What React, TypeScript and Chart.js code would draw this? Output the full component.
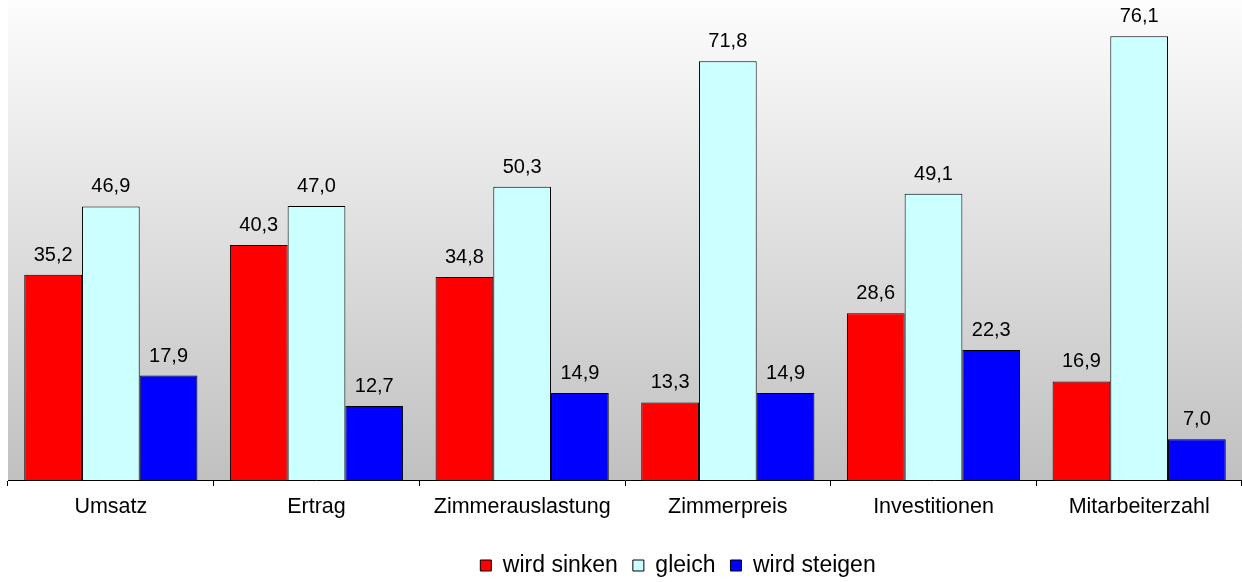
import React, { useEffect, useRef } from "react";
import { Chart, registerables } from "chart.js";

Chart.register(...registerables);

const categories = ["Umsatz", "Ertrag", "Zimmerauslastung", "Zimmerpreis", "Investitionen", "Mitarbeiterzahl"];
const seriesNames = ["wird sinken", "gleich", "wird steigen"];
const wirdSinken = [35.2, 40.3, 34.8, 13.3, 28.6, 16.9];
const gleich = [46.9, 47.0, 50.3, 71.8, 49.1, 76.1];
const wirdSteigen = [17.9, 12.7, 14.9, 14.9, 22.3, 7.0];
const seriesColors = ["#FF0000", "#CCFFFF", "#0000FF"];

const FONT = "'Liberation Sans', Arial, sans-serif";
const W = 1242;
const H = 582;
const PLOT_BOTTOM = 480;
const LEGEND_CENTER_X = 678;
const LEGEND_CENTER_Y = 565.5;
const LEGEND_FONT = 23;

const fmt = (v: number) => v.toFixed(1).replace(".", ",");

const bgPlugin = {
  id: "plotBg",
  beforeDraw(chart: any) {
    const { ctx, chartArea } = chart;
    const g = ctx.createLinearGradient(0, chartArea.top, 0, chartArea.bottom);
    g.addColorStop(0, "#FDFDFD");
    g.addColorStop(1, "#C0C0C0");
    ctx.save();
    ctx.fillStyle = g;
    ctx.fillRect(chartArea.left, chartArea.top, chartArea.right - chartArea.left, chartArea.bottom - chartArea.top);
    ctx.restore();
  },
};

const labelPlugin = {
  id: "valueLabels",
  afterDatasetsDraw(chart: any) {
    const { ctx } = chart;
    ctx.save();
    ctx.font = `20px ${FONT}`;
    ctx.fillStyle = "#000";
    ctx.textAlign = "center";
    ctx.textBaseline = "alphabetic";
    chart.data.datasets.forEach((ds: any, i: number) => {
      const meta = chart.getDatasetMeta(i);
      meta.data.forEach((bar: any, j: number) => {
        ctx.fillText(fmt(ds.data[j]), bar.x, bar.y - 14);
      });
    });
    ctx.restore();
  },
};

const legendShift = {
  id: "legendShift",
  afterLayout(chart: any) {
    const lg = chart.legend;
    if (!lg) return;
    const pad = lg.options.labels.padding;
    const dy = LEGEND_CENTER_Y - (lg.top + pad + LEGEND_FONT / 2);
    const dx = LEGEND_CENTER_X - (lg.left + lg.right) / 2;
    lg.top += dy;
    lg.bottom += dy;
    lg.left += dx;
    lg.right += dx;
  },
};

export default function App() {
  const ref = useRef<HTMLCanvasElement | null>(null);

  useEffect(() => {
    if (!ref.current) return;
    const data = [wirdSinken, gleich, wirdSteigen];
    const chart = new Chart(ref.current, {
      type: "bar",
      data: {
        labels: categories,
        datasets: seriesNames.map((name, i) => ({
          label: name,
          data: data[i],
          backgroundColor: seriesColors[i],
          borderColor: "#000",
          borderWidth: 1,
          categoryPercentage: 0.842,
          barPercentage: 1,
        })),
      },
      options: {
        responsive: false,
        animation: false,
        events: [],
        devicePixelRatio: 1,
        layout: { padding: { left: 8, right: 0, top: 0, bottom: 0 } },
        plugins: {
          legend: {
            position: "bottom",
            labels: {
              boxWidth: 11,
              boxHeight: 11,
              padding: 15,
              color: "#000",
              font: { family: FONT, size: LEGEND_FONT },
            },
          },
          tooltip: { enabled: false },
          title: { display: false },
        },
        scales: {
          x: {
            grid: {
              display: true,
              drawOnChartArea: false,
              drawTicks: true,
              tickLength: 6,
              color: "#000",
              offset: true,
            },
            border: { display: true, color: "#000", width: 1 },
            ticks: {
              color: "#000",
              padding: 8,
              font: { family: FONT, size: 21.5 },
              maxRotation: 0,
              autoSkip: false,
            },
            afterFit: (scale: any) => {
              const lgH = scale.chart.legend ? scale.chart.legend.height : 0;
              scale.height = H - PLOT_BOTTOM - lgH;
            },
          },
          y: {
            display: false,
            min: 0,
            max: 82.3,
          },
        },
      },
      plugins: [bgPlugin, labelPlugin, legendShift],
    });
    return () => chart.destroy();
  }, []);

  return (
    <div style={{ position: "fixed", left: 0, top: 0, width: W, height: H, background: "#fff" }}>
      <canvas ref={ref} width={W} height={H} style={{ width: W, height: H, display: "block" }} />
    </div>
  );
}
